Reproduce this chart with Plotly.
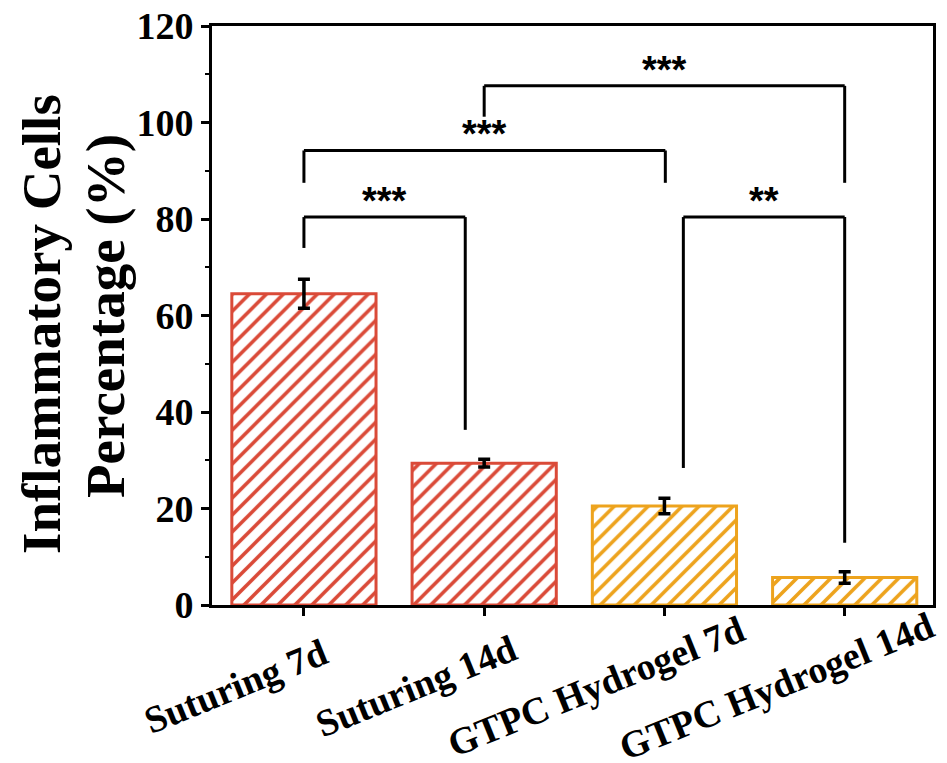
import plotly.graph_objects as go

# ---- data ----
categories = ["Suturing 7d", "Suturing 14d", "GTPC Hydrogel 7d", "GTPC Hydrogel 14d"]
values = [64.5, 29.4, 20.5, 5.7]
errors = [3.0, 0.8, 1.6, 1.2]
bar_colors = ["#DA4A38", "#DA4A38", "#EDA31D", "#EDA31D"]
y_ticks = [0, 20, 40, 60, 80, 100, 120]

# significance brackets: (x_left, x_right, bar height, left leg bottom, right leg bottom, label)
brackets = [
    (0.0, 0.895, 80.4, 74.0, 36.3, "***"),
    (0.0, 2.005, 94.2, 87.5, 87.5, "***"),
    (1.0, 3.0, 107.6, 101.2, 87.5, "***"),
    (2.105, 3.0, 80.4, 28.4, 12.9, "**"),
]

# page has an 8px body margin; the figure fills the rest of the window
OFF = 8
W, H = 947 - OFF, 763 - OFF
PL, PT, PW, PH = 212, 26, 721, 579          # plot area in window pixels
L, T = PL - OFF, PT - OFF
R = W - L - PW
B = H - T - PH


def px_to_paper_x(px):
    return (px - PL) / PW


def px_to_paper_y(py):
    return (PT + PH - py) / PH


x_pos = list(range(len(categories)))

fig = go.Figure()
fig.add_trace(go.Bar(
    x=x_pos, y=values, width=0.8,
    marker=dict(color="white", line=dict(color=bar_colors, width=3),
                pattern=dict(shape="/", fgcolor=bar_colors, bgcolor="white",
                             fgopacity=1, size=12, solidity=0.3, fillmode="overlay")),
    error_y=dict(type="data", array=errors, visible=True, color="black",
                 thickness=3.5, width=6),
    showlegend=False,
))

shapes = []
annotations = []
for xl, xr, yh, yl, yr, lab in brackets:
    shapes.append(dict(type="line", xref="x", yref="y", x0=xl, x1=xr, y0=yh, y1=yh,
                       line=dict(color="black", width=3)))
    shapes.append(dict(type="line", xref="x", yref="y", x0=xl, x1=xl, y0=yl, y1=yh,
                       line=dict(color="black", width=3)))
    shapes.append(dict(type="line", xref="x", yref="y", x0=xr, x1=xr, y0=yr, y1=yh,
                       line=dict(color="black", width=3)))
    annotations.append(dict(x=(xl + xr) / 2, y=yh, xref="x", yref="y", text=lab,
                            showarrow=False, xanchor="center", yanchor="bottom",
                            yshift=-7,
                            font=dict(family="Liberation Sans", size=38, color="black",
                                      weight="bold")))

# x category labels (rotated)
label_font = dict(family="Liberation Serif", size=38, color="black", weight="bold")
for i, c in enumerate(categories):
    annotations.append(dict(x=i, y=px_to_paper_y(686), xref="x", yref="paper", text=c,
                            showarrow=False, xanchor="center", yanchor="middle",
                            xshift=-68, textangle=-22, font=label_font))

# y title (two lines as separate annotations)
title_font = dict(family="Liberation Serif", size=55, color="black", weight="bold")
annotations.append(dict(x=px_to_paper_x(41), y=px_to_paper_y(324), xref="paper", yref="paper",
                        text="Inflammatory Cells", showarrow=False, textangle=-90,
                        xanchor="center", yanchor="middle", font=title_font))
annotations.append(dict(x=px_to_paper_x(106), y=px_to_paper_y(316), xref="paper", yref="paper",
                        text="Percentage (%)", showarrow=False, textangle=-90,
                        xanchor="center", yanchor="middle", font=title_font))

fig.update_layout(
    width=W, height=H,
    margin=dict(l=L, r=R, t=T, b=B, pad=0, autoexpand=False),
    plot_bgcolor="white", paper_bgcolor="white",
    shapes=shapes, annotations=annotations,
)
fig.update_xaxes(range=[-0.51, 3.49], tickvals=x_pos, showticklabels=False,
                 ticks="outside", ticklen=8, tickwidth=3, tickcolor="black",
                 showline=True, linecolor="black", linewidth=3, mirror=True,
                 showgrid=False, zeroline=False, automargin=False)
fig.update_yaxes(range=[0, 120], tickvals=y_ticks, ticks="outside", ticklen=8,
                 tickwidth=3, tickcolor="black", ticklabeloverflow="allow",
                 automargin=False,
                 minor=dict(dtick=10, ticks="outside", ticklen=4, tickwidth=2,
                            tickcolor="black"),
                 tickfont=dict(family="Liberation Serif", size=38, color="black",
                               weight="bold"),
                 showline=True, linecolor="black", linewidth=3, mirror=True,
                 showgrid=False, zeroline=False)

fig.write_html("out.html")
